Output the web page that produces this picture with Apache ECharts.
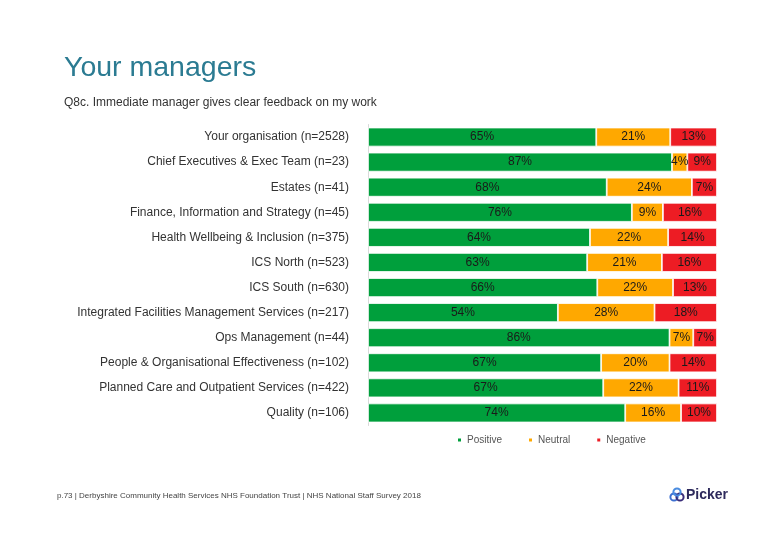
<!DOCTYPE html>
<html>
<head>
<meta charset="utf-8">
<script src="https://cdn.jsdelivr.net/npm/echarts@6/dist/echarts.min.js"></script>
<style>html,body{margin:0;padding:0;background:#fff;}#c{width:780px;height:540px;}</style>
</head>
<body>
<div id="c"></div>
<script>
const categories = [
  "Your organisation (n=2528)",
  "Chief Executives & Exec Team (n=23)",
  "Estates (n=41)",
  "Finance, Information and Strategy (n=45)",
  "Health Wellbeing & Inclusion (n=375)",
  "ICS North (n=523)",
  "ICS South (n=630)",
  "Integrated Facilities Management Services (n=217)",
  "Ops Management (n=44)",
  "People & Organisational Effectiveness (n=102)",
  "Planned Care and Outpatient Services (n=422)",
  "Quality (n=106)"
];
const positive = [65.4, 87.1, 68.4, 75.6, 63.6, 62.8, 65.7, 54.4, 86.4, 66.8, 67.4, 73.7];
const neutral  = [21.2, 4.4, 24.4, 8.9, 22.4, 21.4, 21.7, 27.7, 6.8, 19.6, 21.6, 16.0];
const negative = [13.4, 8.5, 7.2, 15.5, 14.0, 15.8, 12.6, 17.9, 6.8, 13.6, 11.0, 10.3];
const seriesNames = ["Positive", "Neutral", "Negative"];
const colors = ["#009F3C", "#FFA800", "#ED1C24"];

const chart = echarts.init(document.getElementById('c'), null, {renderer: 'canvas'});
const font = "'Liberation Sans', Arial, sans-serif";
function mk(name, data, color) {
  return {
    name: name, type: 'bar', stack: 'all', data: data, barWidth: 19,
    itemStyle: {color: color, borderColor: '#fff', borderWidth: 0.8},
    label: {show: true, position: 'inside', fontFamily: font, fontSize: 12, color: '#1a1a1a',
      formatter: p => Math.round(p.value) + '%'},
    emphasis: {disabled: true}
  };
}
chart.setOption({
  animation: false,
  color: colors,
  title: {
    text: 'Your managers', left: 64, top: 54, padding: 0,
    textStyle: {fontFamily: font, fontSize: 28.5, fontWeight: 'normal', color: '#2B7B92'}
  },
  graphic: [
    {type: 'text', left: 64, top: 97, style: {text: 'Q8c. Immediate manager gives clear feedback on my work', font: "12px 'Liberation Sans', Arial, sans-serif", fill: '#333'}},
    {type: 'text', left: 57, top: 492, style: {text: 'p.73 | Derbyshire Community Health Services NHS Foundation Trust | NHS National Staff Survey 2018', font: "8px 'Liberation Sans', Arial, sans-serif", fill: '#444'}},
    {type: 'circle', shape: {cx: 674, cy: 497, r: 3.6}, style: {fill: 'none', stroke: '#3C6FD0', lineWidth: 2}},
    {type: 'circle', shape: {cx: 680, cy: 497, r: 3.6}, style: {fill: 'none', stroke: '#3A2D7A', lineWidth: 2}},
    {type: 'circle', shape: {cx: 677, cy: 492, r: 3.6}, style: {fill: 'none', stroke: '#4A8CE0', lineWidth: 2}},
    {type: 'text', left: 686, top: 488, style: {text: 'Picker', font: "bold 14px 'Liberation Sans', Arial, sans-serif", fill: '#2E2A5C'}}
  ],
  legend: {
    data: seriesNames, left: 451, top: 430, itemWidth: 5, itemHeight: 5, itemGap: 25, icon: 'rect',
    textStyle: {fontFamily: font, fontSize: 10, color: '#555'}
  },
  grid: {left: 368, right: 63, top: 124.5, bottom: 114.5, containLabel: false},
  xAxis: {type: 'value', min: 0, max: 100, show: false},
  yAxis: {
    type: 'category', data: categories, inverse: true,
    axisLine: {show: true, lineStyle: {color: '#d9d9d9', width: 1}},
    axisTick: {show: false},
    axisLabel: {fontFamily: font, fontSize: 12, color: '#333', margin: 19}
  },
  series: [mk(seriesNames[0], positive, colors[0]), mk(seriesNames[1], neutral, colors[1]), mk(seriesNames[2], negative, colors[2])]
});
</script>
</body>
</html>
